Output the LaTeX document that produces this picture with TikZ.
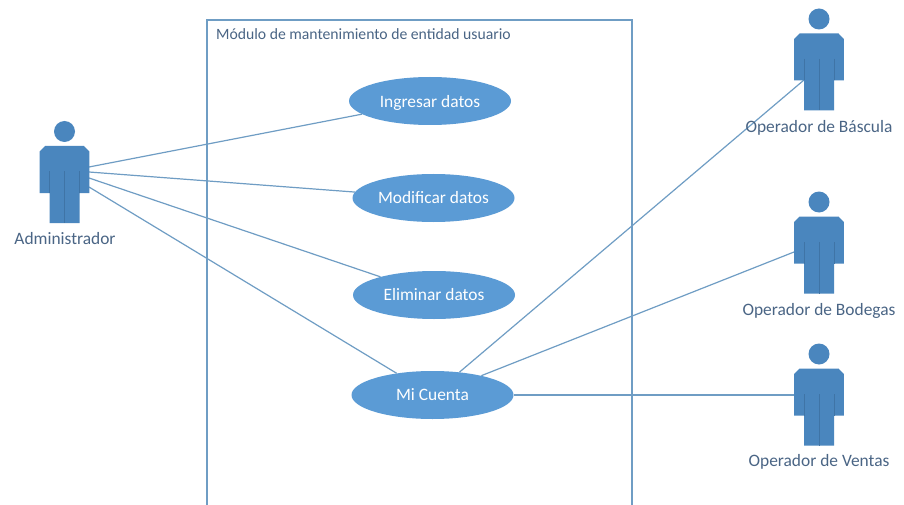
\documentclass[tikz,border=0pt]{standalone}
\usepackage{fontspec}
\setmainfont{Carlito}
\usetikzlibrary{shapes.geometric}
\definecolor{edgeblue}{HTML}{6F9DC4}
\definecolor{usecase}{HTML}{5B9BD5}
\definecolor{actorblue}{HTML}{4A86BE}
\definecolor{actorline}{HTML}{3F74A6}
\definecolor{labelblue}{HTML}{4A6585}
\tikzset{
  usecasebox/.style={ellipse,fill=usecase,draw=none,minimum width=162pt,minimum height=48pt,inner sep=0pt,text=white,font=\fontsize{17.4}{20}\selectfont},
  link/.style={draw=edgeblue,line width=1.2pt},
  actorlabel/.style={text=labelblue,font=\fontsize{17.4}{20}\selectfont,inner sep=0pt},
  frametitle/.style={text=labelblue,font=\fontsize{15.7}{18}\selectfont,inner sep=0pt,anchor=west},
  actorfig/.pic={
    \fill[actorblue] (0,0) circle (10.5);
    \fill[actorblue] (-19.5,14.5) -- (19.5,14.5) -- (24.8,20) -- (24.8,61.5) -- (15,61.5) -- (15,91.5)
      -- (-15,91.5) -- (-15,61.5) -- (-24.8,61.5) -- (-24.8,20) -- cycle;
    \draw[actorline,line width=0.7pt] (0,40) -- (0,91.5) (-15,40) -- (-15,61.5) (15,40) -- (15,61.5);
  }
}
\begin{document}
\begin{tikzpicture}[x=1pt,y=-1pt]
\useasboundingbox (0,0) rectangle (904,505);
\fill[white] (0,0) rectangle (904,505);
\coordinate (frameBL) at (207,505);
\coordinate (frameTL) at (207,20);
\coordinate (frameTR) at (632,20);
\coordinate (frameBR) at (632,505);
\draw[link] (frameBL) -- (frameTL) -- (frameTR) -- (frameBR);
\node[frametitle] (title) at (216,34.5) {Módulo de mantenimiento de entidad usuario};

\coordinate (adm1) at (89,167);
\coordinate (adm2) at (89,172);
\coordinate (adm3) at (89,178);
\coordinate (adm4) at (89,187);
\coordinate (bas) at (804,80);
\coordinate (bod) at (794,252);
\coordinate (ven) at (794,395);

\node[usecasebox,text depth=0pt,yshift=0pt] (ing) at (430,101) {\raisebox{-1pt}{Ingresar datos}};
\node[usecasebox] (mod) at (433.5,198) {\raisebox{-1pt}{Modificar datos}};
\node[usecasebox] (eli) at (434,295) {\raisebox{-1pt}{Eliminar datos}};
\node[usecasebox] (cta) at (432.5,395) {\raisebox{-1pt}{Mi Cuenta}};

\draw[link] (adm1) -- (ing);
\draw[link] (adm2) -- (mod);
\draw[link] (adm3) -- (eli);
\draw[link] (adm4) -- (cta);
\draw[link] (bas) -- (cta);
\draw[link] (bod) -- (cta);
\draw[link] (ven) -- (cta);

\pic at (64.5,131.5) {actorfig};
\pic at (819,19) {actorfig};
\pic at (819,202) {actorfig};
\pic at (819,354) {actorfig};

\node[actorlabel] (ladm) at (65,239) {Administrador};
\node[actorlabel] (lbas) at (819,128) {Operador de Báscula};
\node[actorlabel] (lbod) at (819,311) {Operador de Bodegas};
\node[actorlabel] (lven) at (819,462) {Operador de Ventas};
\end{tikzpicture}
\end{document}
